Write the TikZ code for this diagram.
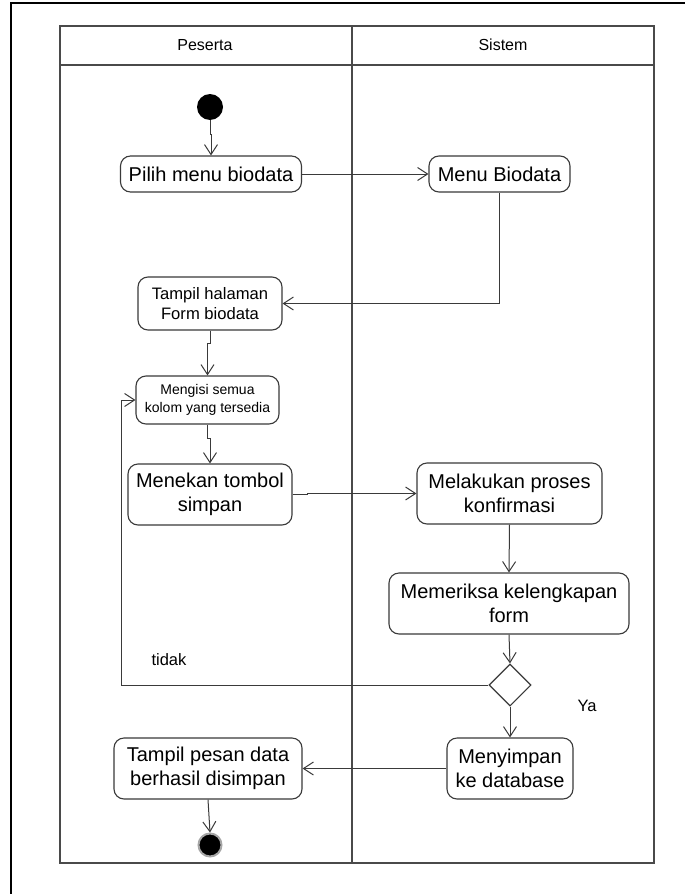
\documentclass[tikz,border=0pt]{standalone}
\usepackage{fontspec}
\setmainfont{Liberation Sans}
\usetikzlibrary{arrows.meta,shapes.geometric}

\definecolor{linegray}{HTML}{3A3A3A}
\definecolor{lanegray}{HTML}{4A4A4A}

\tikzset{
  lane/.style={draw=lanegray, line width=1.6pt},
  frame/.style={draw=black, line width=2.2pt},
  act/.style={draw=linegray, line width=1.1pt, rounded corners=10pt,
    align=center, inner sep=0pt, fill=white},
  bigtxt/.style={font=\fontsize{20}{23.5}\selectfont},
  midtxt/.style={font=\fontsize{16.6}{20.5}\selectfont},
  smalltxt/.style={font=\fontsize{14}{18}\selectfont},
  flow/.style={draw=linegray, line width=1pt,
    -{Straight Barb[length=10pt,width=13pt,line width=1pt]}},
  startdot/.style={circle, fill=black, minimum size=26pt, inner sep=0pt},
  enddot/.style={circle, fill=black, draw=gray!70, line width=2pt,
    minimum size=23pt, inner sep=0pt},
  choice/.style={diamond, draw=linegray, line width=1.1pt, fill=white,
    minimum width=42pt, minimum height=42pt, inner sep=0pt},
  lbl/.style={font=\fontsize{16.5}{19}\selectfont}
}

\begin{document}
\begin{tikzpicture}[x=1pt,y=-1pt]
\useasboundingbox (0,0) rectangle (685,894);
\fill[white] (0,0) rectangle (685,894);

% page frame (left and top edges)
\draw[frame] (11,900) -- (11,3) -- (690,3);

% swimlanes
\draw[lane] (60,26) rectangle (654,863);
\draw[lane] (60,65) -- (654,65);
\draw[lane] (352,26) -- (352,863);
\node[font=\fontsize{16}{19}\selectfont] (hpeserta) at (205,45) {Peserta};
\node[font=\fontsize{16}{19}\selectfont] (hsistem) at (503,45) {Sistem};

% activities
\node[startdot] (start) at (210,107) {};
\node[act, bigtxt, minimum width=181pt, minimum height=36pt] (pilih) at (211,174) {Pilih menu biodata};
\node[act, bigtxt, minimum width=141pt, minimum height=36pt] (menu) at (499.5,174) {Menu Biodata};
\node[act, midtxt, minimum width=144pt, minimum height=53pt] (tampil) at (210,303.5) {Tampil halaman\\Form biodata};
\node[act, smalltxt, minimum width=143pt, minimum height=48pt] (mengisi) at (207.5,400) {Mengisi semua\\kolom yang tersedia};
\node[act, bigtxt, minimum width=164pt, minimum height=61pt] (menekan) at (210,494.5) {Menekan tombol\\simpan};
\node[act, bigtxt, minimum width=185pt, minimum height=61pt] (melakukan) at (509.5,493.5) {Melakukan proses\\konfirmasi};
\node[act, bigtxt, minimum width=240pt, minimum height=61pt] (memeriksa) at (509,603.5) {Memeriksa kelengkapan\\form};
\node[choice] (cek) at (510,685) {};
\node[act, bigtxt, minimum width=126pt, minimum height=61pt] (menyimpan) at (510,768.5) {Menyimpan\\ke database};
\node[act, bigtxt, minimum width=188pt, minimum height=61pt] (pesan) at (208,768.5) {Tampil pesan data\\berhasil disimpan};
\node[enddot] (stop) at (210,845) {};

\coordinate (loopcorner) at (121,685);

% flows
\draw[flow] (start.south) -- ++(0,14) -| (pilih.north);
\draw[flow] (pilih.east) -- (menu.west);
\draw[flow] (menu.south) |- (tampil.east);
\draw[flow] (tampil.south) -- ++(0,13) -| (mengisi.north);
\draw[flow] (mengisi.south) -- ++(0,14) -| (menekan.north);
\draw[flow] (menekan.east) -- ++(15,0) |- (melakukan.west);
\draw[flow] (melakukan.south) -- (memeriksa.north);
\draw[flow] (memeriksa.south) -- (cek.north);
\draw[flow] (cek.west) -- (loopcorner) |- (mengisi.west);
\draw[flow] (cek.south) -- (menyimpan.north);
\draw[flow] (menyimpan.west) -- (pesan.east);
\draw[flow] (pesan.south) -- (stop.north);

% guard labels
\node[lbl] (ltidak) at (169,660) {tidak};
\node[lbl] (lya) at (587,706) {Ya};
\end{tikzpicture}
\end{document}
